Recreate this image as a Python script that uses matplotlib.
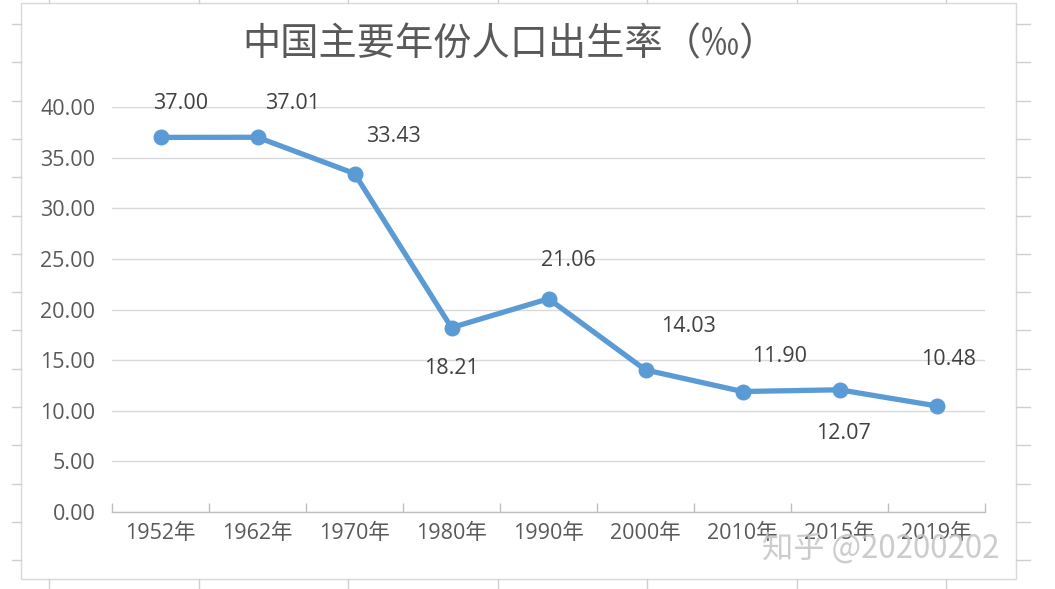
import matplotlib
matplotlib.use('Agg')
from matplotlib import pyplot as plt
from matplotlib.patches import Rectangle
from matplotlib.lines import Line2D
import numpy as np

W, H = 1055, 589

years = ['1952年', '1962年', '1970年', '1980年', '1990年',
         '2000年', '2010年', '2015年', '2019年']
rates = [37.00, 37.01, 33.43, 18.21, 21.06, 14.03, 11.90, 12.07, 10.48]
yticks = [0, 5, 10, 15, 20, 25, 30, 35, 40]

# where the value labels sit relative to each point (pixels)
label_offsets = [(20, 34), (35, 34), (39, 37), (0, -41), (20, 38),
                 (43, 43), (37, 35), (4, -44), (12, 46)]

LINE_BLUE = '#5b9bd5'
TEXT_GREY = '#595959'
GRID_GREY = '#d9d9d9'
NUM_FONT = ['Open Sans', 'Noto Sans CJK SC']
CJK_FONT = ['Noto Sans CJK SC Light', 'Noto Sans CJK SC', 'DejaVu Sans']

plt.rcParams['font.family'] = NUM_FONT

fig = plt.figure(figsize=(W / 100, H / 100), dpi=100)
fig.patch.set_facecolor('white')


def fx(x):
    return x / W


def fy(y):
    return 1 - y / H


# spreadsheet grid peeking out around the chart
for k in range(16):
    y = 24 + 38.3 * k
    fig.add_artist(Line2D([fx(12), fx(21)], [fy(y), fy(y)], color='#d0d0d0', lw=1))
    fig.add_artist(Line2D([fx(1016), fx(1030)], [fy(y), fy(y)], color='#d0d0d0', lw=1))
for k in range(7):
    x = 49 + 149.5 * k
    fig.add_artist(Line2D([fx(x), fx(x)], [fy(579), fy(589)], color='#d0d0d0', lw=1))
    fig.add_artist(Line2D([fx(x), fx(x)], [fy(0), fy(3)], color='#d0d0d0', lw=1))

# chart area border
fig.add_artist(Rectangle((fx(21), fy(579)), fx(1016) - fx(21), fy(3) - fy(579),
                         transform=fig.transFigure, facecolor='white',
                         edgecolor=GRID_GREY, lw=1, zorder=0))

ax = fig.add_axes([fx(112), fy(512), fx(985) - fx(112), fy(107) - fy(512)])
ax.set_facecolor('none')

x = np.arange(len(years))
ax.plot(x, rates, color=LINE_BLUE, lw=3.8, marker='o', markersize=10.5,
        solid_joinstyle='round', zorder=3, clip_on=False)

for xi, v, (dx, dy) in zip(x, rates, label_offsets):
    ax.annotate('{:.2f}'.format(v), (xi, v), xytext=(dx, dy),
                textcoords='offset pixels', ha='center', va='center',
                fontsize=15.5, color='#404040', family=NUM_FONT,
                annotation_clip=False)

ax.set_xlim(-0.5, len(years) - 0.5)
ax.set_ylim(0, 40)
ax.set_yticks(yticks)
ax.set_yticklabels(['{:.2f}'.format(t) for t in yticks])
ax.set_xticks(x)
ax.set_xticklabels(years)
ax.set_xticks(np.arange(len(years) + 1) - 0.5, minor=True)

ax.grid(axis='y', color=GRID_GREY, lw=1)
ax.set_axisbelow(True)
for side in ['top', 'right', 'left']:
    ax.spines[side].set_visible(False)
ax.spines['bottom'].set_color('#bfbfbf')
ax.spines['bottom'].set_linewidth(1)

ax.tick_params(axis='y', length=0, pad=12, labelsize=15.5, labelcolor=TEXT_GREY)
ax.tick_params(axis='x', which='major', length=0, pad=8, labelsize=15.5,
               labelcolor=TEXT_GREY)
ax.tick_params(axis='x', which='minor', direction='in', length=6.5,
               color='#bfbfbf', width=1)

fig.text(fx(510), fy(45), '中国主要年份人口出生率（‰）', ha='center', va='center',
         fontsize=27.5, color=TEXT_GREY, family=CJK_FONT,
         fontweight='light')

# zhihu watermark
fig.text(fx(881), fy(549), '知乎 @20200202', ha='center', va='center',
         fontsize=22.5, color='#c4c4c4', alpha=0.85,
         family=CJK_FONT, fontweight='light')

fig.savefig('out.png', dpi=100, facecolor='white')
